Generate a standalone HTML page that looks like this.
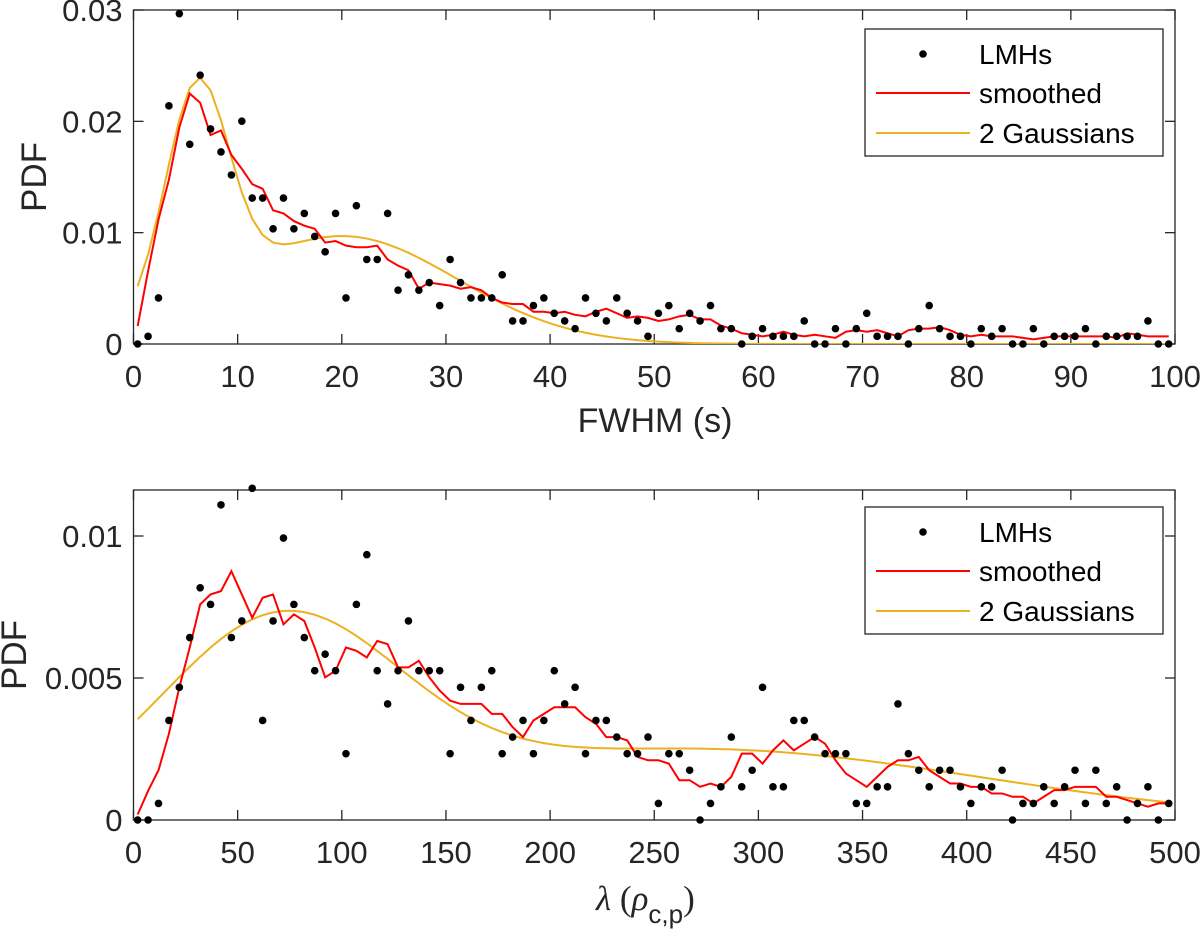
<!DOCTYPE html>
<html><head><meta charset="utf-8"><style>
html,body{margin:0;padding:0;background:#fff;}
svg{display:block;font-family:"Liberation Sans",Arial,sans-serif;}
</style></head><body>
<svg id="fig" width="1200" height="934" viewBox="0 0 1200 934" xmlns="http://www.w3.org/2000/svg"></svg>
<script>
// ---------- Top panel data (FWHM) ----------
const topBinCenters = [0.4,1.4,2.4,3.4,4.4,5.4,6.4,7.4,8.4,9.4,10.4,11.4,12.4,13.4,14.4,15.4,16.4,17.4,18.4,19.4,20.4,21.4,22.4,23.4,24.4,25.4,26.4,27.4,28.4,29.4,30.4,31.4,32.4,33.4,34.4,35.4,36.4,37.4,38.4,39.4,40.4,41.4,42.4,43.4,44.4,45.4,46.4,47.4,48.4,49.4,50.4,51.4,52.4,53.4,54.4,55.4,56.4,57.4,58.4,59.4,60.4,61.4,62.4,63.4,64.4,65.4,66.4,67.4,68.4,69.4,70.4,71.4,72.4,73.4,74.4,75.4,76.4,77.4,78.4,79.4,80.4,81.4,82.4,83.4,84.4,85.4,86.4,87.4,88.4,89.4,90.4,91.4,92.4,93.4,94.4,95.4,96.4,97.4,98.4,99.4];
const topPdf = [0,0.00069,0.00414,0.02139,0.02967,0.01794,0.02415,0.01932,0.01725,0.01518,0.02001,0.01311,0.01311,0.01035,0.01311,0.01035,0.01173,0.00966,0.00828,0.01173,0.00414,0.01242,0.00759,0.00759,0.01173,0.00483,0.00621,0.00483,0.00552,0.00345,0.00759,0.00552,0.00414,0.00414,0.00414,0.00621,0.00207,0.00207,0.00345,0.00414,0.00276,0.00207,0.00138,0.00414,0.00276,0.00207,0.00414,0.00276,0.00207,0.00069,0.00276,0.00345,0.00138,0.00276,0.00207,0.00345,0.00138,0.00138,0,0.00069,0.00138,0.00069,0.00069,0.00069,0.00207,0,0,0.00138,0,0.00138,0.00276,0.00069,0.00069,0.00069,0,0.00138,0.00345,0.00138,0.00069,0.00069,0,0.00138,0.00069,0.00138,0,0,0.00138,0,0.00069,0.00069,0.00069,0.00138,0,0.00069,0.00069,0.00069,0.00069,0.00207,0,0];
const topGaussAmp = [0.0195,0.0097];
const topGaussMean = [6.1,20];
const topGaussSigma = [3.0,11];
const topXTicks = [0,10,20,30,40,50,60,70,80,90,100];
const topXTickLabels = ["0","10","20","30","40","50","60","70","80","90","100"];
const topYTicks = [0,0.01,0.02,0.03];
const topYTickLabels = ["0","0.01","0.02","0.03"];

// ---------- Bottom panel data (lambda) ----------
const botBinCenters = [2,7,12,17,22,27,32,37,42,47,52,57,62,67,72,77,82,87,92,97,102,107,112,117,122,127,132,137,142,147,152,157,162,167,172,177,182,187,192,197,202,207,212,217,222,227,232,237,242,247,252,257,262,267,272,277,282,287,292,297,302,307,312,317,322,327,332,337,342,347,352,357,362,367,372,377,382,387,392,397,402,407,412,417,422,427,432,437,442,447,452,457,462,467,472,477,482,487,492,497];
const botPdf = [0,0,0.000584,0.003504,0.004672,0.006424,0.008176,0.007592,0.011096,0.006424,0.007008,0.01168,0.003504,0.007008,0.009928,0.007592,0.006424,0.005256,0.00584,0.005256,0.002336,0.007592,0.009344,0.005256,0.004088,0.005256,0.007008,0.005256,0.005256,0.005256,0.002336,0.004672,0.003504,0.004672,0.005256,0.002336,0.00292,0.003504,0.002336,0.003504,0.005256,0.004088,0.004672,0.002336,0.003504,0.003504,0.00292,0.002336,0.002336,0.00292,0.000584,0.002336,0.002336,0.001752,0,0.000584,0.001168,0.00292,0.001168,0.001752,0.004672,0.001168,0.001168,0.003504,0.003504,0.00292,0.002336,0.002336,0.002336,0.000584,0.000584,0.001168,0.001168,0.004088,0.002336,0.001752,0.001168,0.001752,0.001752,0.001168,0.000584,0.001168,0.001168,0.001752,0,0.000584,0.000584,0.001168,0.000584,0.001168,0.001752,0.000584,0.001752,0.000584,0.001168,0,0.000584,0.001168,0,0.000584];
const botGaussAmp = [0.0065,0.0025];
const botGaussMean = [70,270];
const botGaussSigma = [57,136];
const botXTicks = [0,50,100,150,200,250,300,350,400,450,500];
const botXTickLabels = ["0","50","100","150","200","250","300","350","400","450","500"];
const botYTicks = [0,0.005,0.01];
const botYTickLabels = ["0","0.005","0.01"];

const NS = "http://www.w3.org/2000/svg";
const svg = document.getElementById('fig');
function mk(tag, attrs, parent){
  const e = document.createElementNS(NS, tag);
  for (const k in attrs) e.setAttribute(k, attrs[k]);
  (parent||svg).appendChild(e);
  return e;
}
function movmean5(v){
  const out=[];
  for(let i=0;i<v.length;i++){
    let s=0,n=0;
    for(let j=i-2;j<=i+2;j++){ if(j>=0&&j<v.length){s+=v[j];n++;} }
    out.push(s/n);
  }
  return out;
}
function gauss2(x, A, M, S){
  let s=0;
  for(let k=0;k<A.length;k++) s+=A[k]*Math.exp(-((x-M[k])**2)/(2*S[k]*S[k]));
  return s;
}

function panel(cfg){
  const g = mk('g',{});
  
  
  const L=cfg.left, R=cfg.right, T=cfg.top, B=cfg.bottom;
  const xs = v => L + (v-cfg.xmin)/(cfg.xmax-cfg.xmin)*(R-L);
  const ys = v => B - (v-cfg.ymin)/(cfg.ymax-cfg.ymin)*(B-T);
  const col = '#262626';
  const box = mk('rect',{x:L,y:T,width:R-L,height:B-T,fill:'none',stroke:col,'stroke-width':1.3},g);
  
  
  cfg.xticks.forEach((t,i)=>{
    const x = xs(t);
    mk('line',{x1:x,y1:B,x2:x,y2:B-10,stroke:col,'stroke-width':1.3},g);
    mk('line',{x1:x,y1:T,x2:x,y2:T+10,stroke:col,'stroke-width':1.3},g);
    const tx = mk('text',{x:x,y:B+43,'text-anchor':'middle','font-size':31,fill:col},g);
    tx.textContent = cfg.xlabels[i];
    
    
  });
  cfg.yticks.forEach((t,i)=>{
    const y = ys(t);
    mk('line',{x1:L,y1:y,x2:L+10,y2:y,stroke:col,'stroke-width':1.3},g);
    mk('line',{x1:R,y1:y,x2:R-10,y2:y,stroke:col,'stroke-width':1.3},g);
    const tx = mk('text',{x:L-11,y:y+11,'text-anchor':'end','font-size':31,fill:col},g);
    tx.textContent = cfg.ylabels[i];
    
    
  });
  const yl = mk('text',{x:0,y:0,'text-anchor':'middle','font-size':35,fill:col,transform:`translate(${cfg.ylabelX},${(T+B)/2}) rotate(-90)`},g);
  yl.textContent = 'PDF';
  
  
  const cid = cfg.name+'-clip';
  const cp = mk('clipPath',{id:cid},g);
  mk('rect',{x:L,y:T,width:R-L,height:B-T},cp);
  const plot = mk('g',{'clip-path':`url(#${cid})`},g);
  const gpts = cfg.xv.map(x=>xs(x).toFixed(2)+','+ys(gauss2(x,cfg.gA,cfg.gM,cfg.gS)).toFixed(2)).join(' ');
  const gl = mk('polyline',{points:gpts,fill:'none',stroke:'#EDB120','stroke-width':2},plot);
  
  
  const sm = movmean5(cfg.yv);
  const spts = cfg.xv.map((x,i)=>xs(x).toFixed(2)+','+ys(sm[i]).toFixed(2)).join(' ');
  const sl = mk('polyline',{points:spts,fill:'none',stroke:'#FF0000','stroke-width':2},plot);
  
  
  cfg.xv.forEach((x,i)=>{
    const c = mk('circle',{cx:xs(x),cy:ys(cfg.yv[i]),r:3.8,fill:'#000'},g);
    
    
  });
  const lg = mk('g',{},g);
  
  
  const lx = 865, ly = cfg.legendTop;
  mk('rect',{x:lx,y:ly,width:298,height:127,fill:'#fff',stroke:col,'stroke-width':1.3},lg);
  const rows = [ly+25, ly+64, ly+104];
  const d = mk('circle',{cx:923,cy:rows[0],r:3.8,fill:'#000'},lg);
  
  
  const l1 = mk('line',{x1:876,y1:rows[1],x2:970,y2:rows[1],stroke:'#FF0000','stroke-width':2},lg);
  
  
  const l2 = mk('line',{x1:876,y1:rows[2],x2:970,y2:rows[2],stroke:'#EDB120','stroke-width':2},lg);
  
  
  ['LMHs','smoothed','2 Gaussians'].forEach((t,i)=>{
    const tx = mk('text',{x:979,y:rows[i]+10,'font-size':28,fill:'#000'},lg);
    tx.textContent = t;
    
    
  });
  return g;
}

panel({name:'fwhm-panel',left:133.5,right:1175,top:10,bottom:344,xmin:0,xmax:100,ymin:0,ymax:0.03,ylabelX:46,
  xv:topBinCenters,yv:topPdf,gA:topGaussAmp,gM:topGaussMean,gS:topGaussSigma,
  xticks:topXTicks,xlabels:topXTickLabels,yticks:topYTicks,ylabels:topYTickLabels,legendTop:29});
panel({name:'lambda-panel',left:133.5,right:1175,top:490,bottom:820,xmin:0,xmax:500,ymin:0,ymax:(820-490)/28400,ylabelX:26,
  xv:botBinCenters,yv:botPdf,gA:botGaussAmp,gM:botGaussMean,gS:botGaussSigma,
  xticks:botXTicks,xlabels:botXTickLabels,yticks:botYTicks,ylabels:botYTickLabels,legendTop:507});

const xt1 = mk('text',{x:655,y:432,'text-anchor':'middle','font-size':34,fill:'#262626'});
xt1.textContent = 'FWHM (s)';


const xt2 = mk('text',{x:596,y:910,'font-size':35,fill:'#262626','font-family':'"Liberation Serif",serif'});


const s1 = mk('tspan',{'font-style':'italic'},xt2); s1.textContent='λ';
const s2 = mk('tspan',{},xt2); s2.textContent=' (';
const s3 = mk('tspan',{'font-style':'italic'},xt2); s3.textContent='ρ';
const s4 = mk('tspan',{dy:13,'font-size':26,'font-family':'"Liberation Sans",sans-serif'},xt2); s4.textContent='c,p';
const s5 = mk('tspan',{dy:-13},xt2); s5.textContent=')';
</script>
</body></html>
